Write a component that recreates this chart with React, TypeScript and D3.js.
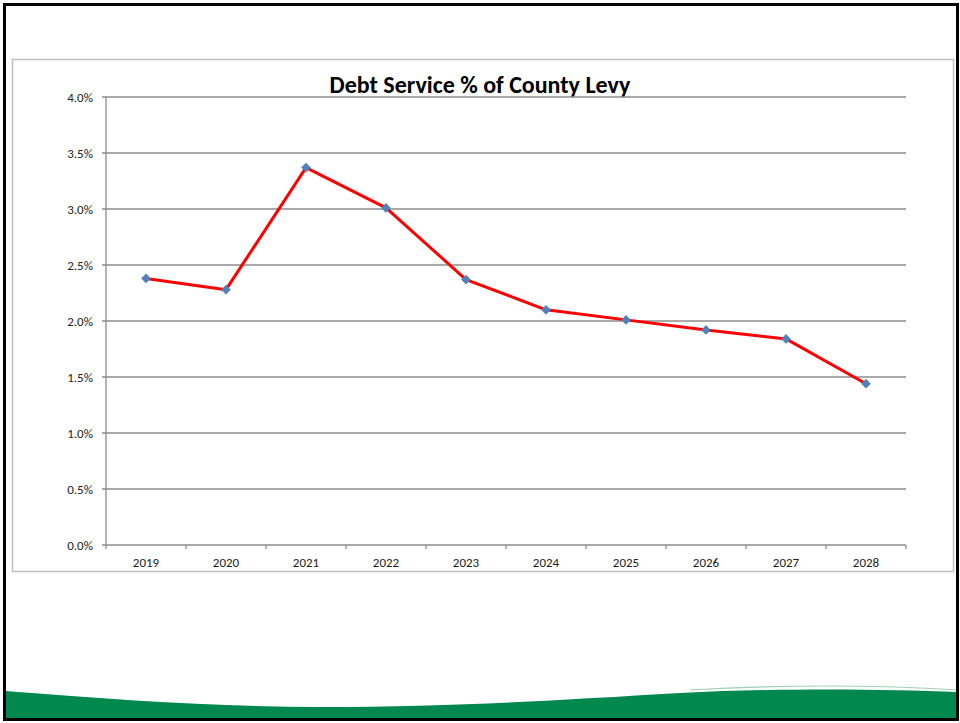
import React from "react";
import * as d3 from "d3";

const years = ["2019", "2020", "2021", "2022", "2023", "2024", "2025", "2026", "2027", "2028"];
const debtPct = [2.38, 2.28, 3.37, 3.01, 2.37, 2.1, 2.01, 1.92, 1.84, 1.44];
const yTicks = [0, 0.5, 1, 1.5, 2, 2.5, 3, 3.5, 4];
const title = "Debt Service % of County Levy";

const W = 960;
const H = 723;
const plot = { left: 106, right: 906, top: 97, bottom: 545 };
const font = "Calibri, Carlito, 'Liberation Sans Narrow', 'Open Sans', sans-serif";

export default function App() {
  const x = d3.scaleBand().domain(years).range([plot.left, plot.right]);
  const y = d3.scaleLinear().domain([0, 4]).range([plot.bottom, plot.top]);
  const line = d3
    .line<number>()
    .x((_, i) => (x(years[i]) as number) + x.bandwidth() / 2)
    .y((d) => y(d));
  const diamond = d3.symbol().type(d3.symbolDiamond2).size(60)();

  const swoosh = "M5,691 C120,700 220,707 320,707 C460,707 560,700 680,693 C780,688 880,689 958,692 L958,720 L5,720 Z";
  const swooshLine = "M690,690 C780,685 880,685 958,690";

  return (
    <div style={{ position: "fixed", left: 0, top: 0 }}>
      <svg width={W} height={H} style={{ display: "block", background: "#fff" }}>
        <path d={swoosh} fill="#00884f" />
        <path d={swooshLine} fill="none" stroke="#9fd0b6" strokeWidth={1.2} />
        <rect x={4.5} y={4.5} width={953} height={715} fill="none" stroke="#000" strokeWidth={3} />
        <rect x={12.5} y={59.5} width={941} height={512} fill="none" stroke="#bfbfbf" strokeWidth={1.5} />
        <text x={480} y={93} textAnchor="middle" fontFamily={font} fontWeight="bold" fontSize={24} fill="#000">
          {title}
        </text>
        {yTicks.map((t) => (
          <g key={t}>
            <line x1={plot.left - 4} x2={plot.right} y1={y(t)} y2={y(t)} stroke="#8c8c8c" strokeWidth={1.3} />
            <text x={93} y={y(t) + 4.5} textAnchor="end" fontFamily={font} fontSize={13} fill="#222">
              {d3.format(".1f")(t) + "%"}
            </text>
          </g>
        ))}
        <line x1={plot.left} x2={plot.left} y1={plot.top} y2={plot.bottom} stroke="#8c8c8c" strokeWidth={1.3} />
        {years.map((yr, i) => (
          <g key={yr}>
            <line
              x1={(x(yr) as number) + x.bandwidth()}
              x2={(x(yr) as number) + x.bandwidth()}
              y1={plot.bottom}
              y2={plot.bottom + 4}
              stroke="#8c8c8c"
              strokeWidth={1.3}
            />
            {i === 0 && (
              <line x1={plot.left} x2={plot.left} y1={plot.bottom} y2={plot.bottom + 4} stroke="#8c8c8c" strokeWidth={1.3} />
            )}
            <text
              x={(x(yr) as number) + x.bandwidth() / 2}
              y={567}
              textAnchor="middle"
              fontFamily={font}
              fontSize={13}
              fill="#222"
            >
              {yr}
            </text>
          </g>
        ))}
        <path d={line(debtPct) || ""} fill="none" stroke="#ff0000" strokeWidth={3} strokeLinejoin="round" />
        {debtPct.map((v, i) => (
          <path
            key={i}
            d={diamond || ""}
            transform={`translate(${(x(years[i]) as number) + x.bandwidth() / 2},${y(v)})`}
            fill="#4f81bd"
          />
        ))}
      </svg>
    </div>
  );
}
